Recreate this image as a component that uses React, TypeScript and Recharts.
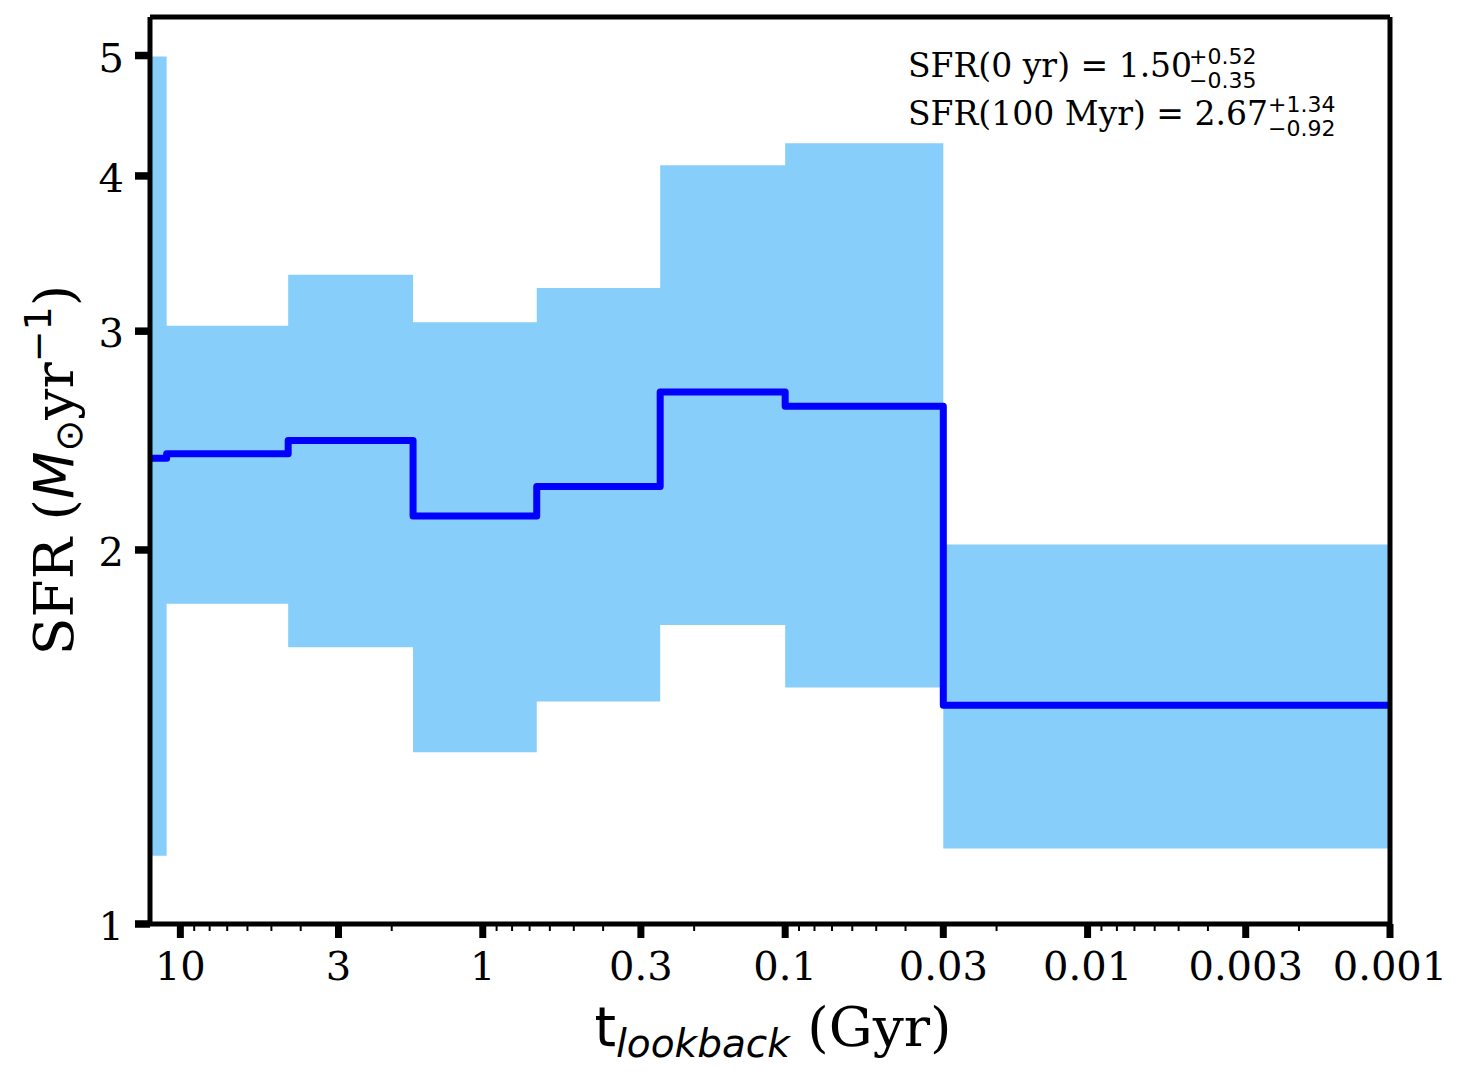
import React from 'react';
import { ComposedChart, Area, Line, XAxis, YAxis, ReferenceLine } from 'recharts';

// bin edges in lookback time (Gyr), oldest first
const BIN_EDGES = [12.6, 11.1, 4.4, 1.7, 0.663, 0.259, 0.1, 0.03, 0.001];
// per-bin SFR (Msun/yr): median and 16/84 percentiles
const SFR_MEDIAN = [2.37, 2.39, 2.45, 2.13, 2.25, 2.68, 2.61, 1.5];
const SFR_LOW = [1.135, 1.81, 1.67, 1.375, 1.51, 1.74, 1.55, 1.15];
const SFR_HIGH = [4.99, 3.03, 3.33, 3.05, 3.25, 4.08, 4.25, 2.02];

const X_MAJOR = [10, 3, 1, 0.3, 0.1, 0.03, 0.01, 0.003, 0.001];
const X_MINOR = [
  9, 8, 7, 6, 5, 4, 2,
  0.9, 0.8, 0.7, 0.6, 0.5, 0.4, 0.2,
  0.09, 0.08, 0.07, 0.06, 0.05, 0.04, 0.02,
  0.009, 0.008, 0.007, 0.006, 0.005, 0.004, 0.002,
];
const Y_TICKS = [1, 2, 3, 4, 5];

const X_DOMAIN = [0.001, 12.6];
const Y_DOMAIN = [1, 5.37];

const rows = SFR_MEDIAN.flatMap((med, i) => [
  { t: BIN_EDGES[i], med, band: [SFR_LOW[i], SFR_HIGH[i]] },
  { t: BIN_EDGES[i + 1], med, band: [SFR_LOW[i], SFR_HIGH[i]] },
]);

const SERIF = 'DejaVu Serif';
const SANS = 'DejaVu Sans';

const XTick = (props: any) => {
  const { x, y, payload } = props;
  const major = X_MAJOR.includes(payload.value);
  return (
    <g>
      <line x1={x} x2={x} y1={y} y2={y + (major ? 14 : 7)} stroke="#000" strokeWidth={major ? 7 : 2} />
      {major && (
        <text x={x} y={y + 56} textAnchor="middle" fontFamily={SERIF} fontSize={40} fill="#000">
          {String(payload.value)}
        </text>
      )}
    </g>
  );
};

const YTick = (props: any) => {
  const { x, y, payload } = props;
  return (
    <g>
      <line x1={x - 15} x2={x} y1={y} y2={y} stroke="#000" strokeWidth={7.5} />
      <text x={x - 26} y={y + 16} textAnchor="end" fontFamily={SERIF} fontSize={40} fill="#000">
        {payload.value}
      </text>
    </g>
  );
};

export default function App() {
  return (
    <div style={{ position: 'absolute', left: 0, top: 0 }}>
      <ComposedChart width={1470} height={1079} data={rows} margin={{ top: 17, right: 80, left: 0, bottom: 0 }}>
        <XAxis
          dataKey="t"
          type="number"
          scale="log"
          domain={X_DOMAIN}
          allowDataOverflow
          reversed
          ticks={[...X_MAJOR, ...X_MINOR]}
          interval={0}
          tickSize={0}
          tickMargin={0}
          tickLine={false}
          tick={(p: any) => <XTick {...p} />}
          height={155}
          axisLine={{ stroke: '#000', strokeWidth: 5 }}
        />
        <YAxis
          type="number"
          scale="log"
          domain={Y_DOMAIN}
          allowDataOverflow
          ticks={Y_TICKS}
          interval={0}
          tickSize={0}
          tickMargin={0}
          tickLine={false}
          tick={(p: any) => <YTick {...p} />}
          width={150}
          axisLine={{ stroke: '#000', strokeWidth: 5 }}
        />
        <Area
          dataKey="band"
          type="linear"
          fill="#87cefa"
          fillOpacity={1}
          stroke="none"
          isAnimationActive={false}
        />
        <Line
          dataKey="med"
          type="linear"
          stroke="#0000ff"
          strokeWidth={7}
          strokeLinejoin="round"
          strokeLinecap="round"
          dot={false}
          activeDot={false}
          isAnimationActive={false}
        />
        {/* top and right spines */}
        <ReferenceLine y={Y_DOMAIN[1]} stroke="#000" strokeWidth={5} />
        <ReferenceLine x={X_DOMAIN[0]} stroke="#000" strokeWidth={5} />

        {/* axis labels */}
        <text x={773} y={1046} textAnchor="middle" fill="#000">
          <tspan fontFamily={SANS} fontSize={55}>t</tspan>
          <tspan fontFamily={SANS} fontStyle="italic" fontSize={39} dy={11}>lookback</tspan>
          <tspan fontFamily={SERIF} fontSize={55} dy={-11}> (Gyr)</tspan>
        </text>
        <text x={73} y={470} textAnchor="middle" fill="#000" transform="rotate(-90, 73, 470)">
          <tspan fontFamily={SERIF} fontSize={55}>SFR (</tspan>
          <tspan fontFamily={SANS} fontStyle="italic" fontSize={55}>M</tspan>
          <tspan fontFamily={SANS} fontSize={38} dy={9}>⊙</tspan>
          <tspan fontFamily={SERIF} fontSize={55} dy={-9}>yr</tspan>
          <tspan fontFamily={SANS} fontSize={38} dy={-22}>−1</tspan>
          <tspan fontFamily={SERIF} fontSize={55} dy={22}>)</tspan>
        </text>

        {/* summary annotation */}
        <text x={908} y={77} fontFamily={SERIF} fontSize={33} fill="#000">SFR(0 yr) = 1.50</text>
        <text x={1189} y={64} fontFamily={SANS} fontSize={22} fill="#000">+0.52</text>
        <text x={1189} y={88} fontFamily={SANS} fontSize={22} fill="#000">−0.35</text>
        <text x={908} y={125} fontFamily={SERIF} fontSize={33} fill="#000">SFR(100 Myr) = 2.67</text>
        <text x={1268} y={112} fontFamily={SANS} fontSize={22} fill="#000">+1.34</text>
        <text x={1268} y={136} fontFamily={SANS} fontSize={22} fill="#000">−0.92</text>
      </ComposedChart>
    </div>
  );
}
